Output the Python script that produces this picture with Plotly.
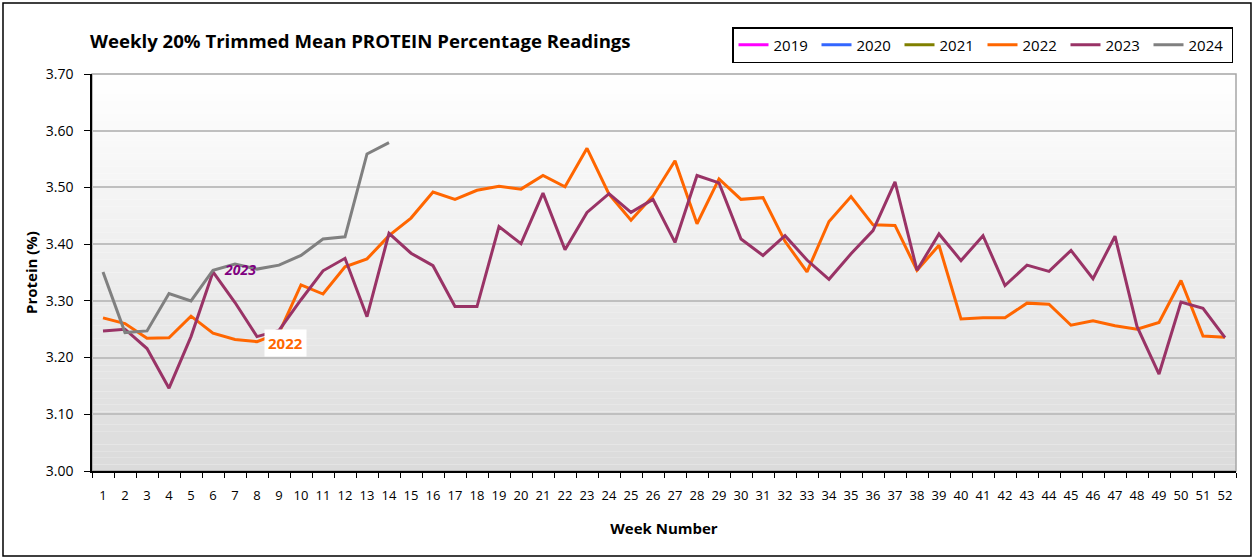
import plotly.graph_objects as go

# week numbers on the x axis
weeks = list(range(1, 53))

# weekly trimmed-mean protein %
protein_2022 = [3.270, 3.260, 3.234, 3.235, 3.273, 3.243, 3.232, 3.228, 3.243, 3.328,
                3.312, 3.360, 3.374, 3.415, 3.446, 3.492, 3.479, 3.495, 3.502, 3.497,
                3.521, 3.501, 3.569, 3.488, 3.442, 3.485, 3.547, 3.436, 3.515, 3.479,
                3.482, 3.405, 3.351, 3.440, 3.484, 3.434, 3.433, 3.354, 3.398, 3.268,
                3.270, 3.270, 3.296, 3.294, 3.257, 3.265, 3.256, 3.250, 3.262, 3.336,
                3.238, 3.236]
protein_2023 = [3.247, 3.250, 3.216, 3.146, 3.237, 3.351, 3.297, 3.237, 3.248, 3.302,
                3.353, 3.375, 3.272, 3.419, 3.384, 3.362, 3.290, 3.290, 3.431, 3.401,
                3.490, 3.390, 3.456, 3.489, 3.456, 3.479, 3.403, 3.521, 3.508, 3.409,
                3.380, 3.415, 3.372, 3.338, 3.383, 3.424, 3.510, 3.354, 3.418, 3.371,
                3.415, 3.327, 3.363, 3.352, 3.389, 3.339, 3.414, 3.255, 3.171, 3.298,
                3.287, 3.235]
protein_2024 = [3.351, 3.244, 3.247, 3.313, 3.300, 3.354, 3.365, 3.356, 3.363, 3.380,
                3.409, 3.413, 3.559, 3.579]

# 2019-2021 only appear in the legend
series = [
    ("2019", [None], "#FF00FF"),
    ("2020", [None], "#3366FF"),
    ("2021", [None], "#808000"),
    ("2022", protein_2022, "#FF6600"),
    ("2023", protein_2023, "#993366"),
    ("2024", protein_2024, "#808080"),
]

FONT = "Open Sans"

fig = go.Figure()
for name, vals, color in series:
    fig.add_trace(go.Scatter(
        x=weeks[:len(vals)], y=vals, name=name, mode="lines",
        line=dict(color=color, width=3),
    ))

# vertical white -> grey gradient behind the plot
n_bands = 60
for i in range(n_bands):
    g = round(255 - (255 - 219) * (i + 0.5) / n_bands)
    fig.add_shape(type="rect", xref="x domain", yref="y domain",
                  x0=0, x1=1, y0=1 - (i + 1) / n_bands, y1=1 - i / n_bands,
                  fillcolor=f"rgb({g},{g},{g})", line_width=0, layer="below")

# grey frame around plot area
fig.add_shape(type="rect", xref="x domain", yref="y domain", x0=0, x1=1, y0=0, y1=1,
              line=dict(color="#A6A6A6", width=1.5), layer="below")
# outer chart border
fig.add_shape(type="rect", xref="paper", yref="paper",
              x0=-0.0778, x1=1.0131, y0=-0.2141, y1=1.1788,
              line=dict(color="black", width=1.5))

fig.add_annotation(x=7.23, y=3.355, text="<b><i>2023</i></b>", showarrow=False,
                   font=dict(family=FONT, size=14, color="#800080"))
fig.add_annotation(x=9.3, y=3.226, text="<b>2022</b>", showarrow=False,
                   bgcolor="white", borderpad=3,
                   font=dict(family=FONT, size=15, color="#FF6600"))

fig.update_layout(
    width=1255, height=559,
    margin=dict(l=92, r=19, t=74, b=88, autoexpand=False),
    paper_bgcolor="white", plot_bgcolor="rgba(0,0,0,0)",
    font=dict(family=FONT, size=14, color="black"),
    title=dict(text="<b>Weekly 20% Trimmed Mean PROTEIN Percentage Readings</b>",
               x=90 / 1255, xanchor="left", xref="container",
               y=1 - 41 / 559, yanchor="middle", yref="container",
               font=dict(family=FONT, size=18.6)),
    showlegend=True,
    legend=dict(orientation="h", x=(732 - 92) / 1144, y=(471 - 27) / 397,
                xanchor="left", yanchor="top", bgcolor="white",
                bordercolor="black", borderwidth=1.5,
                entrywidth=38, font=dict(family=FONT, size=15),
                traceorder="normal", itemwidth=30),
)

fig.update_xaxes(
    range=[0.5, 52.5], tickvals=weeks, ticktext=[str(w) for w in weeks],
    ticks="", ticklabelstandoff=12, showgrid=False, zeroline=False,
    tickfont=dict(size=13),
    showline=True, linecolor="black", linewidth=1.5,
    minor=dict(tickvals=[w + 0.5 for w in range(0, 53)], ticks="outside",
               ticklen=5, tickcolor="black", showgrid=False),
    title=dict(text="<b>Week Number</b>", standoff=20, font=dict(size=15)),
)
fig.update_yaxes(
    range=[3.0, 3.7], dtick=0.1, tickformat=".2f",
    ticks="outside", ticklen=6, tickcolor="black", ticklabelstandoff=8,
    showgrid=True, gridcolor="#BFBFBF", gridwidth=1.5, zeroline=False,
    showline=True, linecolor="black", linewidth=1.5,
    title=dict(text="<b>Protein (%)</b>", standoff=4, font=dict(size=15)),
)

# drop the default 8px page margin so the figure sits at the window origin
fig.write_html("out.html", config={"displayModeBar": False},
               post_script="document.body.style.margin='0';")
